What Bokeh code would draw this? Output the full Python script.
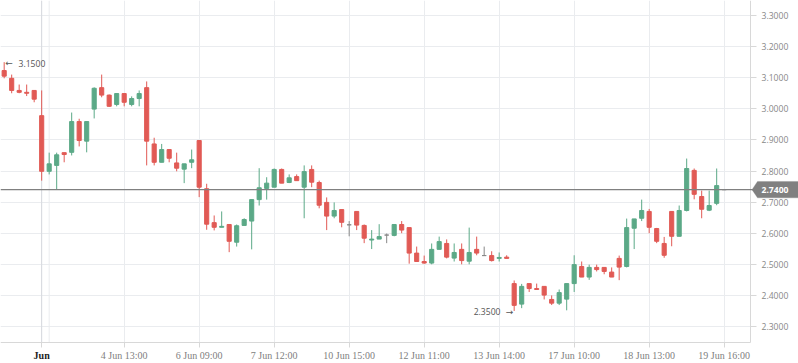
from bokeh.plotting import figure
from bokeh.models import (FixedTicker, Span, Label, Range1d, PrintfTickFormatter,
                          ColumnDataSource, BoxAnnotation, PolyAnnotation)
from bokeh.embed import file_html
from bokeh.resources import INLINE

# ---- data ----
opens = [3.123, 3.098, 3.059, 3.053, 3.059, 2.978, 2.799, 2.818, 2.859, 2.860,
         2.959, 2.896, 2.999, 3.068, 3.044, 3.014, 3.049, 3.014, 3.033, 3.068,
         2.887, 2.828, 2.869, 2.826, 2.806, 2.828, 2.898, 2.743, 2.634, 2.619,
         2.628, 2.571, 2.625, 2.639, 2.708, 2.744, 2.748, 2.805, 2.763, 2.782,
         2.748, 2.805, 2.763, 2.699, 2.655, 2.676, 2.627, 2.670, 2.625, 2.578,
         2.581, 2.594, 2.593, 2.628, 2.618, 2.536, 2.509, 2.504, 2.548, 2.567,
         2.520, 2.548, 2.510, 2.548, 2.528, 2.528, 2.519, 2.523, 2.438, 2.372,
         2.438, 2.422, 2.429, 2.387, 2.375, 2.388, 2.438, 2.493, 2.459, 2.490,
         2.490, 2.475, 2.519, 2.493, 2.616, 2.648, 2.670, 2.615, 2.567, 2.670,
         2.590, 2.673, 2.802, 2.718, 2.674, 2.696, 2.740]
highs = [3.150, 3.110, 3.078, 3.078, 3.059, 3.059, 2.859, 2.859, 2.859, 2.988,
         2.968, 2.959, 3.069, 3.110, 3.046, 3.050, 3.050, 3.040, 3.059, 3.088,
         2.907, 2.887, 2.869, 2.859, 2.823, 2.869, 2.898, 2.759, 2.657, 2.670,
         2.628, 2.628, 2.648, 2.708, 2.809, 2.780, 2.808, 2.808, 2.789, 2.789,
         2.818, 2.818, 2.769, 2.715, 2.699, 2.676, 2.639, 2.670, 2.628, 2.610,
         2.629, 2.599, 2.628, 2.639, 2.618, 2.557, 2.528, 2.567, 2.589, 2.580,
         2.567, 2.567, 2.618, 2.589, 2.557, 2.542, 2.538, 2.529, 2.448, 2.437,
         2.438, 2.438, 2.429, 2.400, 2.419, 2.438, 2.529, 2.509, 2.499, 2.499,
         2.490, 2.490, 2.528, 2.647, 2.646, 2.708, 2.678, 2.617, 2.588, 2.670,
         2.689, 2.840, 2.808, 2.737, 2.737, 2.808, 2.740]
lows = [3.098, 3.050, 3.050, 3.041, 3.021, 2.769, 2.789, 2.740, 2.828, 2.850,
        2.879, 2.860, 2.969, 3.037, 3.006, 3.008, 3.008, 3.008, 3.008, 2.818,
        2.818, 2.828, 2.828, 2.799, 2.761, 2.809, 2.716, 2.611, 2.609, 2.619,
        2.539, 2.557, 2.625, 2.548, 2.689, 2.708, 2.748, 2.761, 2.761, 2.769,
        2.648, 2.748, 2.680, 2.610, 2.648, 2.619, 2.590, 2.610, 2.568, 2.549,
        2.581, 2.568, 2.590, 2.600, 2.502, 2.509, 2.502, 2.500, 2.548, 2.519,
        2.509, 2.500, 2.500, 2.529, 2.528, 2.509, 2.509, 2.519, 2.350, 2.359,
        2.411, 2.419, 2.387, 2.369, 2.369, 2.352, 2.411, 2.459, 2.450, 2.477,
        2.468, 2.459, 2.449, 2.490, 2.549, 2.639, 2.600, 2.568, 2.521, 2.558,
        2.590, 2.670, 2.709, 2.648, 2.671, 2.690, 2.740]
closes = [3.105, 3.059, 3.053, 3.050, 3.031, 2.799, 2.823, 2.852, 2.853, 2.959,
          2.898, 2.959, 3.066, 3.044, 3.008, 3.049, 3.021, 3.033, 3.049, 2.896,
          2.828, 2.869, 2.841, 2.809, 2.823, 2.836, 2.748, 2.629, 2.619, 2.622,
          2.574, 2.624, 2.644, 2.708, 2.746, 2.761, 2.805, 2.761, 2.778, 2.769,
          2.798, 2.764, 2.690, 2.655, 2.673, 2.635, 2.627, 2.626, 2.584, 2.581,
          2.589, 2.594, 2.628, 2.610, 2.536, 2.509, 2.504, 2.548, 2.573, 2.523,
          2.538, 2.512, 2.538, 2.536, 2.528, 2.512, 2.522, 2.519, 2.368, 2.429,
          2.422, 2.419, 2.401, 2.375, 2.409, 2.438, 2.499, 2.459, 2.490, 2.483,
          2.477, 2.459, 2.491, 2.618, 2.646, 2.673, 2.619, 2.574, 2.529, 2.590,
          2.673, 2.808, 2.725, 2.677, 2.689, 2.753, 2.740]

tick_idx = [5, 16, 26, 36, 46, 56, 66, 76, 86, 96]
tick_labels = ["Jun", "4 Jun 13:00", "6 Jun 09:00", "7 Jun 12:00", "10 Jun 15:00",
               "12 Jun 11:00", "13 Jun 14:00", "17 Jun 10:00", "18 Jun 13:00", "19 Jun 16:00"]
y_ticks = [2.3, 2.4, 2.5, 2.6, 2.7, 2.8, 2.9, 3.0, 3.1, 3.2, 3.3]
high_mark = 3.15
low_mark = 2.35
low_mark_idx = 68

# ---- layout constants (whole canvas is the frame; axes are pinned inside) ----
W, H = 798, 363
PX_X = 7.5            # px per candle
PX_Y = 311.0          # px per price unit
X0 = -0.49
Y_TOP = 3.3 + 15 / PX_Y
X_END = X0 + W / PX_X
Y_BOT = Y_TOP - H / PX_Y
X_AXIS_AT = Y_TOP - 342 / PX_Y     # price level of the time axis line
Y_AXIS_AT = X0 + 750 / PX_X        # index position of the price axis line

UP = "#5ba987"
DOWN = "#e15a55"
FLAT = "#888888"
GRID = "#eaecef"
AXIS = "#d8d8d8"

idx = list(range(len(opens)))
colors = [UP if c > o else (DOWN if c < o else FLAT) for o, c in zip(opens, closes)]
src = ColumnDataSource(dict(
    x=idx, o=opens, h=highs, l=lows, c=closes,
    top=[max(o, c) for o, c in zip(opens, closes)],
    bot=[min(o, c) for o, c in zip(opens, closes)],
    col=colors))

p = figure(width=W, height=H, output_backend="svg", toolbar_location=None,
           x_range=Range1d(X0, X_END), y_range=Range1d(Y_BOT, Y_TOP),
           y_axis_location="right", min_border_left=0, min_border_right=0,
           min_border_top=0, min_border_bottom=0)
p.outline_line_color = None
p.background_fill_color = "white"
p.border_fill_color = "white"

# price axis (right)
ya = p.yaxis[0]
ya.fixed_location = Y_AXIS_AT
ya.bounds = (X_AXIS_AT, Y_TOP)
ya.ticker = FixedTicker(ticks=y_ticks)
ya.formatter = PrintfTickFormatter(format="%.4f")
ya.major_label_text_font = "Open Sans"
ya.major_label_text_font_size = "8.6px"
ya.major_label_text_color = "#888888"
ya.axis_line_color = AXIS
ya.major_tick_line_color = AXIS
ya.major_tick_in = 0
ya.major_tick_out = 6
ya.minor_tick_line_color = None
ya.major_label_standoff = 5

# time axis (bottom)
xa = p.xaxis[0]
xa.fixed_location = X_AXIS_AT
xa.bounds = (X0, Y_AXIS_AT)
xa.ticker = FixedTicker(ticks=tick_idx)
xa.major_label_overrides = {t: ("" if i == 0 else lab)
                            for i, (t, lab) in enumerate(zip(tick_idx, tick_labels))}
xa.major_label_text_font = "Liberation Serif"
xa.major_label_text_font_size = "10px"
xa.major_label_text_color = "#808080"
xa.axis_line_color = AXIS
xa.major_tick_line_color = AXIS
xa.major_tick_in = 0
xa.major_tick_out = 5
xa.minor_tick_line_color = None
xa.major_label_standoff = 2

p.xgrid.grid_line_color = GRID
p.ygrid.grid_line_color = GRID

p.add_layout(Span(location=tick_idx[0], dimension="height", line_color="#d6d9de",
                  line_width=1, level="underlay"))
p.add_layout(Span(location=tick_idx[0] + 1, dimension="height", line_color=GRID,
                  line_width=1, level="underlay"))

# white masks outside the plotting area (hide grid overflow)
p.add_layout(BoxAnnotation(left=Y_AXIS_AT, fill_color="white", fill_alpha=1,
                           line_color=None, level="underlay"))
p.add_layout(BoxAnnotation(top=X_AXIS_AT, fill_color="white", fill_alpha=1,
                           line_color=None, level="underlay"))

# candles
p.segment(x0="x", y0="l", x1="x", y1="h", line_color="col", line_width=1, source=src)
p.vbar(x="x", width=0.55, top="top", bottom="bot", fill_color="col",
       line_color="col", line_width=1, source=src)

# last price line and tag
last = closes[-1]
p.add_layout(Span(location=last, dimension="width", line_color="#808080", line_width=1.3))
hx = 1 / PX_X
hy = 1 / PY if False else 1 / PX_Y
tag_x = [Y_AXIS_AT + 1.5 * hx, Y_AXIS_AT + 7 * hx, X_END, X_END, Y_AXIS_AT + 7 * hx]
tag_y = [last, last + 8.2 * hy, last + 8.2 * hy, last - 8.2 * hy, last - 8.2 * hy]
p.add_layout(PolyAnnotation(xs=tag_x, ys=tag_y, fill_color="#808080", fill_alpha=1,
                            line_color="#808080", line_width=1))
p.add_layout(Label(x=Y_AXIS_AT, y=last, x_offset=11, y_offset=-0.5, text=f"{last:.4f}",
                   text_align="left", text_baseline="middle", text_font="Open Sans",
                   text_font_size="8.6px", text_font_style="bold", text_color="white"))

# month label (bold)
p.add_layout(Label(x=tick_idx[0], y=X_AXIS_AT, y_offset=-7, text=tick_labels[0],
                   text_align="center", text_baseline="top", text_font="Liberation Serif",
                   text_font_size="10px", text_font_style="bold", text_color="#222222"))

# high / low annotations
p.add_layout(Label(x=0, y=high_mark, x_offset=1, y_offset=-1, text="\u2190",
                   text_align="left", text_baseline="middle", text_font="DejaVu Sans",
                   text_font_size="9px", text_color="#555555"))
p.add_layout(Label(x=0, y=high_mark, x_offset=14.3, y_offset=-1, text=f"{high_mark:.4f}",
                   text_align="left", text_baseline="middle", text_font="Open Sans",
                   text_font_size="8.6px", text_color="#555555"))
p.add_layout(Label(x=low_mark_idx, y=low_mark, x_offset=-1, y_offset=-1, text="\u2192",
                   text_align="right", text_baseline="middle", text_font="DejaVu Sans",
                   text_font_size="9px", text_color="#555555"))
p.add_layout(Label(x=low_mark_idx, y=low_mark, x_offset=-13.7, y_offset=-1,
                   text=f"{low_mark:.4f}", text_align="right", text_baseline="middle",
                   text_font="Open Sans", text_font_size="8.6px", text_color="#555555"))

open("out.html", "w").write(file_html(p, INLINE))
